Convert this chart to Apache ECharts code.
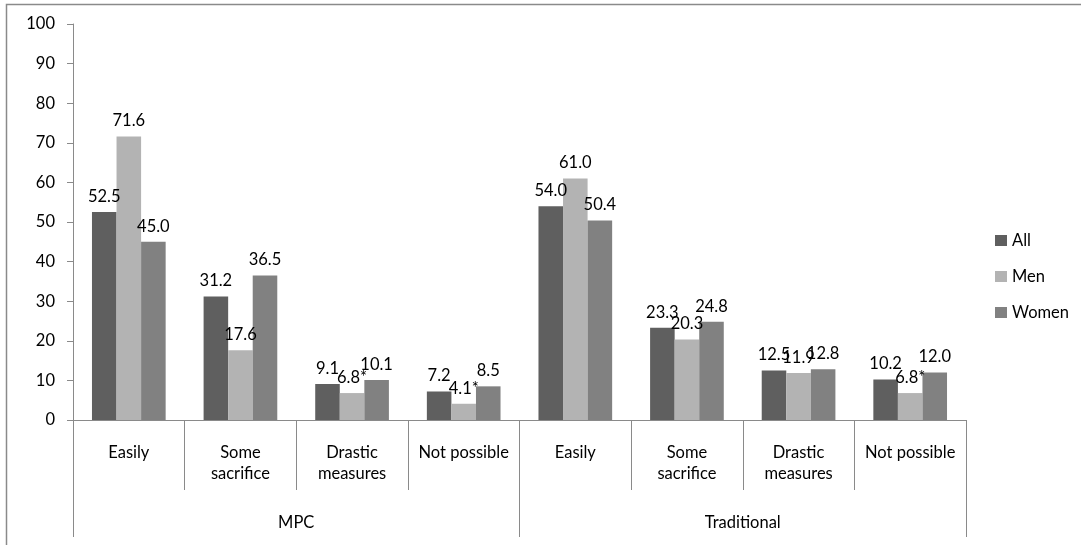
<!DOCTYPE html>
<html>
<head>
<meta charset="utf-8">
<script src="https://cdn.jsdelivr.net/npm/echarts@6/dist/echarts.min.js"></script>
<style>
html,body{margin:0;padding:0;background:#fff;}
#chart{width:1081px;height:545px;}
</style>
</head>
<body>
<div id="chart"></div>
<script>
const categories = ['Easily', 'Some\nsacrifice', 'Drastic\nmeasures', 'Not possible', 'Easily', 'Some\nsacrifice', 'Drastic\nmeasures', 'Not possible'];
const groups = ['MPC', 'Traditional'];
const seriesNames = ['All', 'Men', 'Women'];
const allValues = [52.5, 31.2, 9.1, 7.2, 54.0, 23.3, 12.5, 10.2];
const menValues = [71.6, 17.6, 6.8, 4.1, 61.0, 20.3, 11.9, 6.8];
const womenValues = [45.0, 36.5, 10.1, 8.5, 50.4, 24.8, 12.8, 12.0];
const allNotes = ['', '', '', '', '', '', '', ''];
const menNotes = ['', '', '*', '*', '', '', '', '*'];
const womenNotes = ['', '', '', '', '', '', '', ''];
const yTicks = [0, 10, 20, 30, 40, 50, 60, 70, 80, 90, 100];

const FONT = 'Lato, "Open Sans", sans-serif';
const FS = 16.5;
const TXT = '#000';
const colors = ['#5f5f5f', '#b3b3b3', '#818181'];

function makeSeries(name, values, notes, color) {
  return {
    name: name,
    type: 'bar',
    xAxisIndex: 0,
    data: values,
    barGap: '0%',
    barCategoryGap: '34%',
    itemStyle: { color: color },
    label: {
      show: true,
      position: 'top',
      distance: 7,
      color: TXT,
      fontFamily: FONT,
      fontSize: FS,
      formatter: function (p) { return p.value.toFixed(1) + notes[p.dataIndex]; }
    }
  };
}

const chart = echarts.init(document.getElementById('chart'));
chart.setOption({
  animation: false,
  backgroundColor: '#fff',
  textStyle: { fontFamily: FONT },
  graphic: [{
    type: 'rect',
    shape: { x: 6.5, y: 4.5, width: 2000, height: 2000 },
    style: { fill: 'none', stroke: '#8a8a8a', lineWidth: 1.5 },
    silent: true
  }],
  grid: { left: 73, right: 115, top: 24, bottom: 125, containLabel: false },
  legend: {
    orient: 'vertical',
    left: 995,
    top: 232,
    padding: 0,
    itemWidth: 12,
    itemHeight: 11,
    itemGap: 19,
    icon: 'rect',
    textStyle: { fontFamily: FONT, fontSize: FS, color: TXT },
    data: seriesNames
  },
  xAxis: [{
    type: 'category',
    position: 'bottom',
    data: categories,
    axisLine: { show: true, lineStyle: { color: '#8a8a8a', width: 1 } },
    axisTick: { show: true, interval: 0, length: 70, lineStyle: { color: '#8a8a8a' } },
    axisLabel: { interval: 0, margin: 22, fontFamily: FONT, fontSize: FS, lineHeight: 21, color: TXT },
    splitLine: { show: false }
  }, {
    type: 'category',
    position: 'bottom',
    data: groups,
    axisLine: { show: false },
    axisTick: { show: true, interval: 0, length: 117, lineStyle: { color: '#8a8a8a' } },
    axisLabel: { interval: 0, margin: 92, fontFamily: FONT, fontSize: FS, lineHeight: 21, color: TXT },
    splitLine: { show: false }
  }],
  yAxis: {
    type: 'value',
    min: yTicks[0],
    max: yTicks[yTicks.length - 1],
    interval: yTicks[1] - yTicks[0],
    axisLine: { show: true, lineStyle: { color: '#8a8a8a' } },
    axisTick: { show: true, length: 6, lineStyle: { color: '#8a8a8a' } },
    axisLabel: { margin: 18, fontFamily: FONT, fontSize: FS, color: TXT },
    splitLine: { show: false }
  },
  series: [
    makeSeries(seriesNames[0], allValues, allNotes, colors[0]),
    makeSeries(seriesNames[1], menValues, menNotes, colors[1]),
    makeSeries(seriesNames[2], womenValues, womenNotes, colors[2])
  ]
});
</script>
</body>
</html>
